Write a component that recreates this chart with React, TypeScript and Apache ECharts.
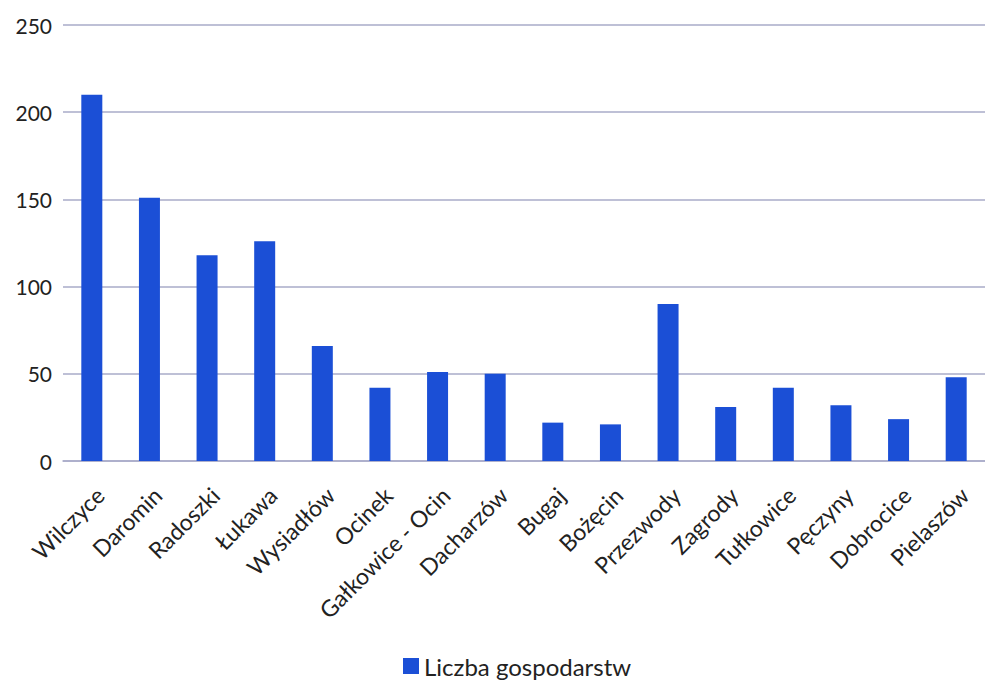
import React, { useEffect, useRef } from "react";
import * as echarts from "echarts";

const categories = [
  "Wilczyce", "Daromin", "Radoszki", "Łukawa", "Wysiadłów", "Ocinek",
  "Gałkowice - Ocin", "Dacharzów", "Bugaj", "Bożęcin", "Przezwody",
  "Zagrody", "Tułkowice", "Pęczyny", "Dobrocice", "Pielaszów",
];
const households = [210, 151, 118, 126, 66, 42, 51, 50, 22, 21, 90, 31, 42, 32, 24, 48];
const seriesName = "Liczba gospodarstw";
const yTicks = { min: 0, max: 250, interval: 50 };

export default function App() {
  const ref = useRef<HTMLDivElement>(null);
  useEffect(() => {
    document.body.style.margin = "0";
    const chart = echarts.init(ref.current!, null, { renderer: "svg" });
    const font = "Lato, 'Open Sans', sans-serif";
    chart.setOption({
      animation: false,
      backgroundColor: "#ffffff",
      grid: { left: 63, right: 0, top: 25, bottom: 223, containLabel: false },
      legend: {
        data: [seriesName],
        top: 649,
        left: 398,
        icon: "rect",
        itemWidth: 16,
        itemHeight: 16,
        itemGap: 4,
        textStyle: { fontFamily: font, fontSize: 24, color: "#222" },
      },
      xAxis: {
        type: "category",
        data: categories,
        axisTick: { show: false },
        axisLine: { lineStyle: { color: "#a9abc9", width: 1.5 } },
        axisLabel: {
          rotate: 45,
          interval: 0,
          margin: 22,
          verticalAlign: "top",
          fontFamily: font,
          fontSize: 23,
          color: "#222",
        },
      },
      yAxis: {
        type: "value",
        min: yTicks.min,
        max: yTicks.max,
        interval: yTicks.interval,
        axisLine: { show: false },
        axisTick: { show: false },
        axisLabel: { fontFamily: font, fontSize: 21, color: "#222", margin: 11 },
        splitLine: { lineStyle: { color: "#a9abc9", width: 1.5 } },
      },
      series: [
        {
          name: seriesName,
          type: "bar",
          data: households,
          barWidth: 21,
          itemStyle: { color: "#1b4fd6" },
        },
      ],
    });
    return () => chart.dispose();
  }, []);
  return <div ref={ref} style={{ width: 985, height: 684 }} />;
}
